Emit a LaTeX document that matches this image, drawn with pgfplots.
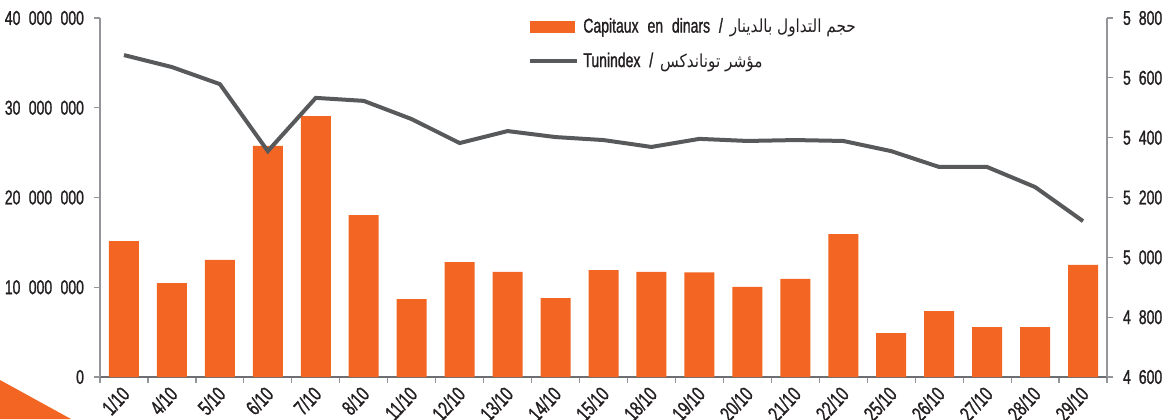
\documentclass[border=0pt]{standalone}
\usepackage{fontspec}
\setmainfont{Liberation Sans}[FakeStretch=0.7, FakeBold=1.2]
\newfontfamily\arabicfont[Script=Arabic, FakeStretch=0.85]{DejaVu Sans}
\TeXXeTstate=1
\usepackage{pgfplots}
\usepackage{pgfplotstable}
\pgfplotsset{compat=1.18}
\definecolor{barc}{HTML}{F26522}
\definecolor{lnc}{HTML}{58595B}
\definecolor{axc}{HTML}{939598}
\definecolor{axb}{HTML}{6D6E71}
\definecolor{txt}{HTML}{231F20}

\pgfplotstableread{
x v
0 15150000
1 10470000
2 13040000
3 25740000
4 29080000
5 18050000
6 8690000
7 12810000
8 11700000
9 8800000
10 11920000
11 11700000
12 11650000
13 10030000
14 10920000
15 15930000
16 4900000
17 7350000
18 5570000
19 5570000
20 12480000
}\bars

\pgfplotstableread{
x v
0 5676
1 5636
2 5579
3 5355
4 5533
5 5523
6 5462
7 5382
8 5422
9 5402
10 5392
11 5369
12 5396
13 5389
14 5392
15 5389
16 5355
17 5302
18 5302
19 5235
20 5121
}\tun

\begin{document}
\begin{tikzpicture}[font=\fontsize{10}{12}\selectfont, text=txt]
\useasboundingbox (0,0) rectangle (584pt,209.5pt);
\fill[barc] (0,0) -- (0,19.5pt) -- (35.5pt,0) -- cycle;
\begin{axis}[
  at={(50pt,21pt)}, anchor=south west, scale only axis,
  width=503.5pt, height=179.5pt,
  xmin=-0.5, xmax=20.5, ymin=0, ymax=40000000,
  axis y line*=left, axis x line*=bottom,
  x axis line style={line width=1.3pt, color=axb},
  y axis line style={line width=0.6pt, color=axc},
  tick style={color=axc, line width=0.6pt},
  tick align=outside, major tick length=3pt,
  xtick={-0.5,0.5,...,20.5},
  x tick label as interval,
  xticklabels={1/10,4/10,5/10,6/10,7/10,8/10,11/10,12/10,13/10,14/10,15/10,18/10,19/10,20/10,21/10,22/10,25/10,26/10,27/10,28/10,29/10},
  x tick label style={rotate=47, anchor=north east, inner sep=0pt, xshift=-2pt, yshift=1pt, font=\fontsize{10.5}{12}\selectfont},
  ytick={0,10000000,20000000,30000000,40000000},
  scaled y ticks=false,
  y tick label style={font=\fontsize{10}{12}\selectfont, xshift=-1.5pt, /pgf/number format/.cd, fixed, 1000 sep={\hspace{4.2pt}}, assume math mode=true},
  legend style={draw=none, fill=none, at={(0.425,1.012)}, anchor=north west,
    font=\fontsize{10}{12}\selectfont, row sep=4.5pt, inner sep=0pt,
    /tikz/every even column/.append style={column sep=3pt}},
  legend cell align=left,
]
\addplot[ybar, bar width=15pt, fill=barc, draw=none,
  legend image code/.code={\fill[barc] (0pt,-3pt) rectangle (22.5pt,3pt);}]
  table[x=x, y=v] {\bars};
\addlegendentry{Capitaux\hspace{2.5pt} en\hspace{2.5pt} dinars\hspace{2.5pt} /\hspace{1.5pt} {\arabicfont\fontsize{9}{11}\selectfont\beginR حجم التداول بالدينار\endR}}
\addlegendimage{legend image code/.code={\draw[lnc, line width=2pt] (0pt,0pt) -- (23.5pt,0pt);}}
\addlegendentry{Tunindex\hspace{2.5pt} /\hspace{1.5pt} {\arabicfont\fontsize{9}{11}\selectfont\beginR مؤشر توناندكس\endR}}
\end{axis}
\begin{axis}[
  at={(50pt,21pt)}, anchor=south west, scale only axis,
  width=503.5pt, height=179.5pt,
  xmin=-0.5, xmax=20.5, ymin=4600, ymax=5800,
  axis y line*=right, axis x line=none,
  y axis line style={line width=0.6pt, color=axc},
  tick style={color=axc, line width=0.6pt},
  tick align=outside, major tick length=3pt,
  ytick={4600,4800,...,5800},
  y tick label style={font=\fontsize{10}{12}\selectfont, xshift=1.5pt, /pgf/number format/.cd, 1000 sep={\hspace{4pt}}, assume math mode=true},
]
\addplot[lnc, line width=2pt, mark=none] table[x=x, y=v] {\tun};
\end{axis}
\end{tikzpicture}
\end{document}
